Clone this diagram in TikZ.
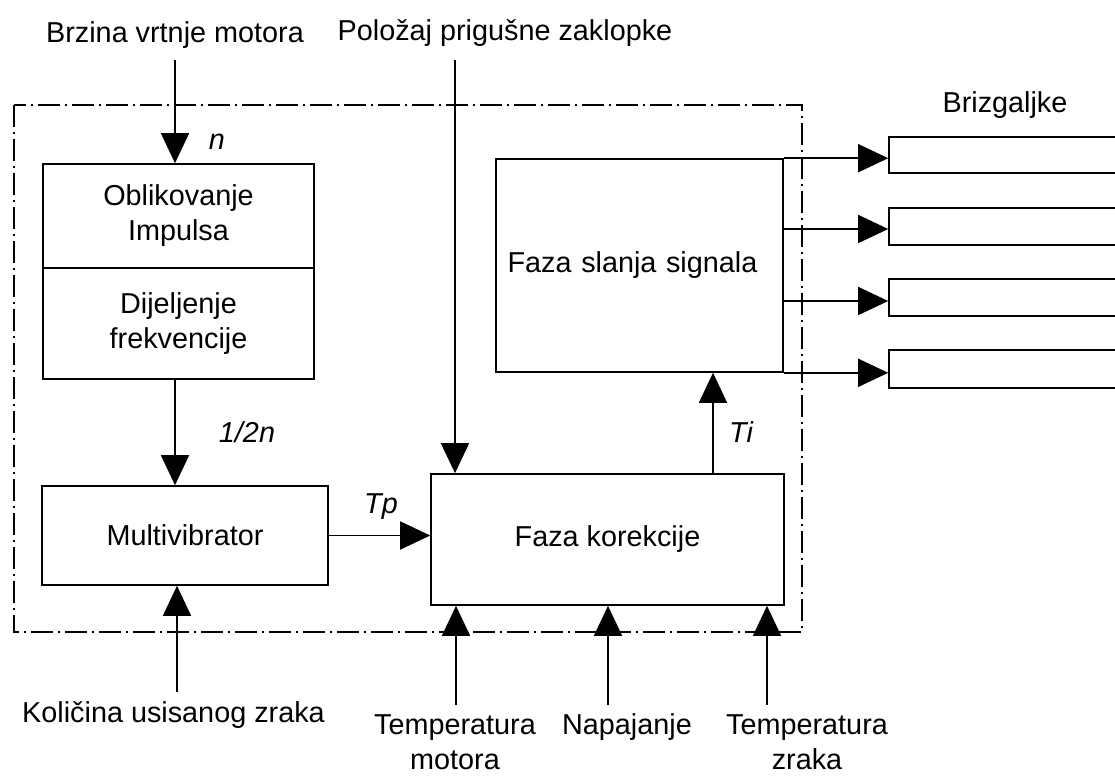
\documentclass[tikz,border=0pt]{standalone}
\usepackage{fontspec}
\setmainfont{Liberation Sans}
\usetikzlibrary{arrows.meta}
\begin{document}
\begin{tikzpicture}[x=1pt,y=-1pt,
  every node/.style={font=\fontsize{28.8}{35}\selectfont, inner sep=0pt, align=center},
  txt/.style={anchor=base},
  lbl/.style={anchor=base, font=\fontsize{28.8}{35}\selectfont\itshape},
  blk/.style={draw, line width=1.6pt},
  arr/.style={line width=1.6pt, -{Triangle[length=30pt,width=28pt]}},
  border/.style={line width=1.4pt, dash pattern=on 22pt off 5pt on 2pt off 5pt}
]
\fill[white] (0,0) rectangle (1115,778);
\useasboundingbox (0,0) rectangle (1115,778);

% dash-dot border of the control unit
\draw[border] (14,105) rectangle (802,632);

% blocks
\node[blk, minimum width=271pt, minimum height=104pt] (ob) at (178.5,216) {Oblikovanje\\Impulsa};
\node[blk, minimum width=271pt, minimum height=111pt] (dij) at (178.5,323.5) {Dijeljenje\\frekvencije};
\node[blk, minimum width=286pt, minimum height=99pt] (mv) at (185,535.5) {Multivibrator};
\node[blk, minimum width=353pt, minimum height=131pt] (fk) at (607.5,539.5) {Faza korekcije};
\node[blk, minimum width=287pt, minimum height=213pt, text width=287pt, align=center] (fs) at (639.5,265.5) {\hspace*{-14pt}Faza slanja signala};

% injector boxes
\node[blk, minimum width=240pt, minimum height=36pt] (b1) at (1009,155) {};
\node[blk, minimum width=240pt, minimum height=37pt] (b2) at (1009,226.5) {};
\node[blk, minimum width=240pt, minimum height=37pt] (b3) at (1009,297.5) {};
\node[blk, minimum width=240pt, minimum height=38pt] (b4) at (1009,369) {};

% texts
\node[txt] (bz) at (175,43) {Brzina vrtnje motora};
\node[txt] (pz) at (505,41) {Položaj prigušne zaklopke};
\node[txt] (br) at (1005,113) {Brizgaljke};
\node[txt] (kol) at (173.5,722) {Količina usisanog zraka};
\node[txt] (tm) at (455,769) {Temperatura\\motora};
\node[txt] (np) at (627,734) {Napajanje};
\node[txt] (tz) at (807,769) {Temperatura\\zraka};

% signal labels
\node[lbl] (ln) at (217,150) {n};
\node[lbl] (lhalf) at (247,442) {1/2n};
\node[lbl] (ltp) at (381,513) {Tp};
\node[lbl] (lti) at (741,442) {Ti};

% connector end points
\coordinate (bz0) at (175,60);
\coordinate (pz0) at (455,60);
\coordinate (tix) at (713,0);
\coordinate (s2) at (783,229);
\coordinate (s3) at (783,301);
\coordinate (k0) at (177,692);
\coordinate (t0) at (456,705);
\coordinate (n0) at (608,705);
\coordinate (z0) at (767,705);

% connectors
\draw[arr] (bz0) -- (bz0 |- ob.north);
\draw[arr] (bz0 |- dij.south) -- (bz0 |- mv.north);
\draw[arr] (pz0) -- (pz0 |- fk.north);
\draw[arr] (mv.east) -- (mv.east -| fk.west);
\draw[arr] (tix |- fk.north) -- (tix |- fs.south);
\draw[arr] (fs.north east) -- (fs.north east -| b1.west);
\draw[arr] (s2) -- (s2 -| b2.west);
\draw[arr] (s3) -- (s3 -| b3.west);
\draw[arr] (fs.south east) -- (fs.south east -| b4.west);
\draw[arr] (k0) -- (k0 |- mv.south);
\draw[arr] (t0) -- (t0 |- fk.south);
\draw[arr] (n0) -- (n0 |- fk.south);
\draw[arr] (z0) -- (z0 |- fk.south);
\end{tikzpicture}
\end{document}
